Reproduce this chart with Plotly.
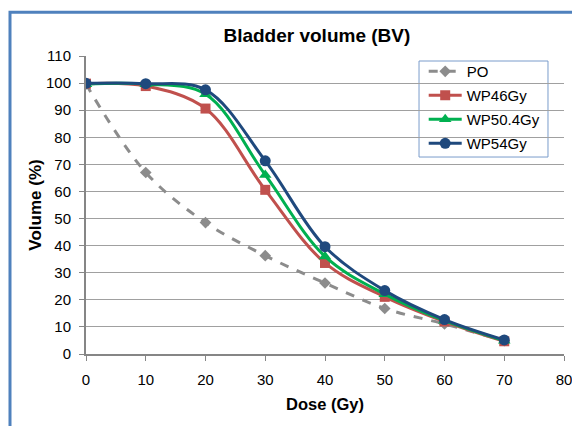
import plotly.graph_objects as go

dose = [0, 10, 20, 30, 40, 50, 60, 70]
po = [99.6, 67.0, 48.5, 36.3, 26.2, 16.8, 11.1, 4.9]
wp46 = [99.8, 98.9, 90.6, 60.6, 33.6, 21.1, 12.0, 4.7]
wp504 = [99.6, 99.6, 95.9, 66.1, 36.0, 22.1, 12.3, 4.9]
wp54 = [99.9, 99.8, 97.5, 71.3, 39.6, 23.4, 12.7, 5.2]

series_names = ["PO", "WP46Gy", "WP50.4Gy", "WP54Gy"]
x_ticks = [0, 10, 20, 30, 40, 50, 60, 70, 80]
y_ticks = [0, 10, 20, 30, 40, 50, 60, 70, 80, 90, 100, 110]

FONT = "Liberation Sans, Arial, sans-serif"

fig = go.Figure()
styles = [
    dict(color="#8C8C8C", symbol="diamond", size=9, dash="dash"),
    dict(color="#C0504D", symbol="square", size=10, dash="solid"),
    dict(color="#00B050", symbol="triangle-up", size=11, dash="solid"),
    dict(color="#1F497D", symbol="circle", size=11, dash="solid"),
]
for name, vals, st in zip(series_names, [po, wp46, wp504, wp54], styles):
    fig.add_trace(go.Scatter(
        x=dose, y=vals, name=name, mode="lines+markers",
        legendgroup=name,
        line=dict(color=st["color"], width=3, dash=st["dash"], shape="spline", smoothing=1.0),
        marker=dict(color=st["color"], symbol=st["symbol"], size=st["size"]),
    ))

# page body adds an 8px offset; margins compensate so the plot area lands where the reference has it
fig.update_layout(
    width=580, height=426,
    margin=dict(l=78, r=24, t=48, b=80),
    paper_bgcolor="white", plot_bgcolor="white",
    font=dict(family=FONT, color="#000000", size=15),
    title=dict(text="Bladder volume (BV)", x=0.483, xref="paper", xanchor="center",
               y=1 - 27 / 426, yref="container", yanchor="middle",
               font=dict(family=FONT, size=19, weight="bold", color="#000000")),
    showlegend=True,
    legend=dict(x=0.7065, y=1.003, xanchor="left", yanchor="top",
                bgcolor="rgba(0,0,0,0)", borderwidth=0,
                font=dict(family=FONT, size=15), itemwidth=33,
                traceorder="grouped", tracegroupgap=1.5),
    xaxis=dict(range=[0, 80], tickvals=x_ticks, showgrid=False, zeroline=False,
               showline=True, linecolor="#868686", linewidth=2,
               ticks="outside", ticklen=5, tickcolor="#868686", tickwidth=1,
               ticklabelstandoff=6, tickfont=dict(size=15),
               title=dict(text="Dose (Gy)", standoff=11,
                          font=dict(family=FONT, size=16.5, weight="bold"))),
    yaxis=dict(range=[0, 110], tickvals=y_ticks, showgrid=True, gridcolor="#A0A0A0", gridwidth=1,
               zeroline=False, showline=True, linecolor="#868686", linewidth=2,
               ticks="outside", ticklen=5, tickcolor="#868686", tickwidth=1,
               ticklabelstandoff=5, tickfont=dict(size=15),
               title=dict(text="Volume (%)", standoff=0.5,
                          font=dict(family=FONT, size=17, weight="bold"))),
    shapes=[
        dict(type="rect", xref="paper", yref="paper",
             x0=-0.159, x1=1.2, y0=-0.4, y1=1.1466,
             line=dict(color="#4F81BD", width=3), fillcolor="rgba(0,0,0,0)", layer="below"),
        dict(type="rect", xref="paper", yref="paper",
             x0=0.6967, x1=0.9665, y0=0.661, y1=0.9832,
             line=dict(color="#7A9CCB", width=1), fillcolor="white", layer="between"),
    ],
)

fig.write_html("out.html")
